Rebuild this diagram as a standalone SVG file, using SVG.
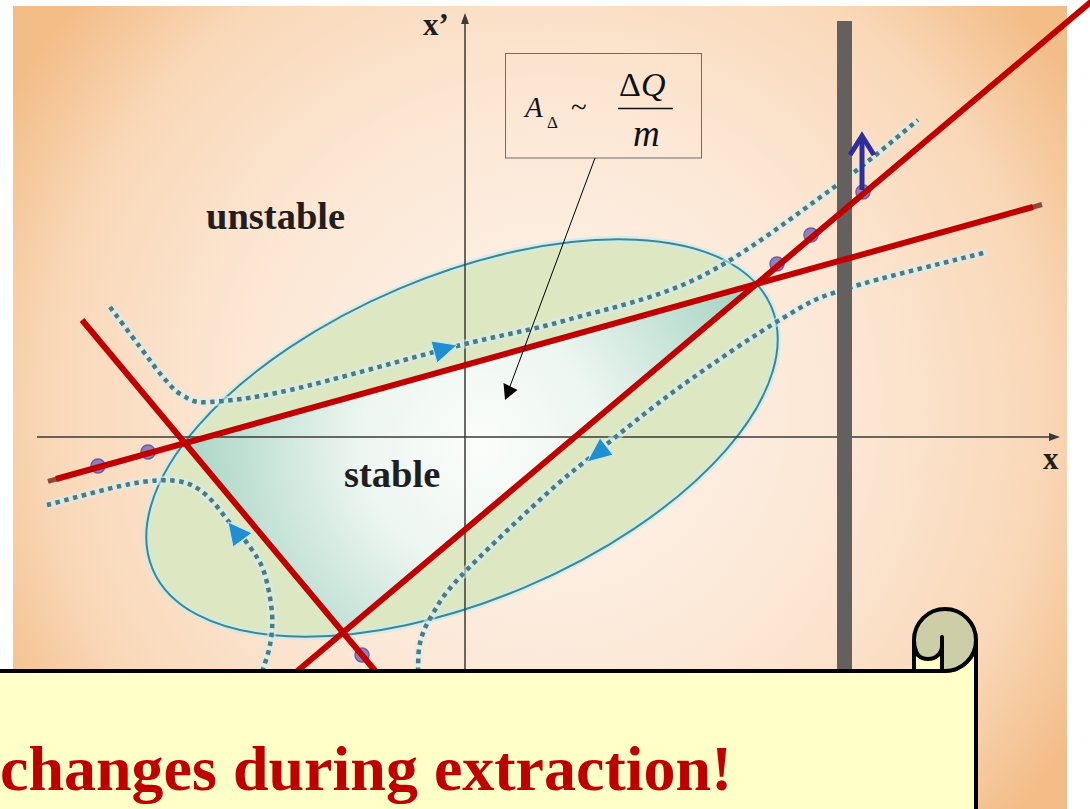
<svg xmlns="http://www.w3.org/2000/svg" width="1090" height="809" viewBox="0 0 1090 809">
<defs>
  <radialGradient id="bg" gradientUnits="userSpaceOnUse" cx="545" cy="410" r="620">
    <stop offset="0" stop-color="#fdf5ee"/>
    <stop offset="0.5" stop-color="#fce7d4"/>
    <stop offset="0.8" stop-color="#f9d8b8"/>
    <stop offset="1" stop-color="#f3bd88"/>
  </radialGradient>
  <radialGradient id="tri" gradientUnits="userSpaceOnUse" cx="480" cy="445" r="300">
    <stop offset="0" stop-color="#fbfdfb"/>
    <stop offset="0.4" stop-color="#edf6f1"/>
    <stop offset="1" stop-color="#a8d4c4"/>
  </radialGradient>
  <clipPath id="ellClip">
    <ellipse cx="462" cy="438" rx="336" ry="162" transform="rotate(-23 462 438)"/>
  </clipPath>
  <style>
    .lbl { font-family: "Liberation Serif", "Times New Roman", serif; font-weight: bold; fill: #221e1f; }
    .math { font-family: "Liberation Serif", "Times New Roman", serif; fill: #111; }
    .it { font-style: italic; }
    .axis { stroke: #3a3a3a; stroke-width: 1.5; fill: none; }
    .axhead { fill: #3a3a3a; }
    .glow { fill: none; stroke: #d4eff1; stroke-width: 9; opacity: 0.55; }
    .traj { fill: none; stroke: #4a7a84; stroke-width: 4.5; stroke-dasharray: 4.5 4.5; }
    .tarrow { fill: #1f8fd1; stroke: #c4eaf5; stroke-width: 1; }
    .sep { stroke: #c00000; stroke-width: 6; fill: none; }
    .tip { stroke: #8b4a3a; stroke-width: 5; }
    .dot { fill: #8378bb; stroke: #5b4f9c; stroke-width: 1.5; opacity: 0.9; }
    .scroll { stroke: #000; stroke-width: 4; stroke-linejoin: round; }
  </style>
</defs>

<rect x="0" y="0" width="1090" height="809" fill="#ffffff"/>
<rect id="background" x="13" y="6" width="1054" height="803" fill="url(#bg)"/>

<g id="ellipse-region">
  <ellipse cx="462" cy="438" rx="336" ry="162" transform="rotate(-23 462 438)" fill="#dde7c2" stroke="#c8ecee" stroke-width="7" stroke-opacity="0.7"/>
  <polygon points="185,443 343,632 757,283" fill="url(#tri)" clip-path="url(#ellClip)"/>
  <ellipse cx="462" cy="438" rx="336" ry="162" transform="rotate(-23 462 438)" fill="none" stroke="#3d8794" stroke-width="2"/>
</g>

<g id="axes">
  <line class="axis" x1="37" y1="437" x2="1050" y2="437"/>
  <polygon class="axhead" points="1060,437 1049,433 1049,441"/>
  <line class="axis" x1="465" y1="672" x2="465" y2="22"/>
  <polygon class="axhead" points="465,13 461,24 469,24"/>
  <text class="lbl" x="1043" y="469" font-size="31">x</text>
  <text class="lbl" x="423" y="35" font-size="31">x’</text>
</g>

<g id="labels">
  <text class="lbl" x="206" y="229" font-size="38.5">unstable</text>
  <text class="lbl" x="344" y="487" font-size="38.5">stable</text>
</g>

<g id="trajectories">
  <path class="glow" d="M110,307 C115,313.7 131.2,335.3 140,347 C148.8,358.7 156,369 163,377 C170,385 174.2,390.8 182,395 C189.8,399.2 192,403.2 210,402 C228,400.8 248.8,399.3 290,390 C331.2,380.7 410.8,357.7 457,346 C503.2,334.3 526.5,331.5 567,320 C607.5,308.5 655.7,299 700,277 C744.3,255 796.7,214.2 833,188 C869.3,161.8 903.8,131.3 918,120"/>
  <path class="traj" d="M110,307 C115,313.7 131.2,335.3 140,347 C148.8,358.7 156,369 163,377 C170,385 174.2,390.8 182,395 C189.8,399.2 192,403.2 210,402 C228,400.8 248.8,399.3 290,390 C331.2,380.7 410.8,357.7 457,346 C503.2,334.3 526.5,331.5 567,320 C607.5,308.5 655.7,299 700,277 C744.3,255 796.7,214.2 833,188 C869.3,161.8 903.8,131.3 918,120"/>
  <path class="glow" d="M47,505 C60.8,501.5 108.3,488 130,484 C151.7,480 164.5,479.3 177,481 C189.5,482.7 196.2,487 205,494 C213.8,501 222.5,514.2 230,523 C237.5,531.8 244.3,538.8 250,547 C255.7,555.2 260.3,561 264,572 C267.7,583 271,600.8 272,613 C273,625.2 271.7,635.2 270,645 C268.3,654.8 263.3,667.5 262,672"/>
  <path class="traj" d="M47,505 C60.8,501.5 108.3,488 130,484 C151.7,480 164.5,479.3 177,481 C189.5,482.7 196.2,487 205,494 C213.8,501 222.5,514.2 230,523 C237.5,531.8 244.3,538.8 250,547 C255.7,555.2 260.3,561 264,572 C267.7,583 271,600.8 272,613 C273,625.2 271.7,635.2 270,645 C268.3,654.8 263.3,667.5 262,672"/>
  <path class="glow" d="M418,672 C418.3,667.2 417.7,652.5 420,643 C422.3,633.5 425.3,626 432,615 C438.7,604 441.5,596.7 460,577 C478.5,557.3 520.2,517.8 543,497 C565.8,476.2 574.2,470.3 597,452 C619.8,433.7 649,409.3 680,387 C711,364.7 755.5,334.3 783,318 C810.5,301.7 811,300 845,289 C879,278 963.3,258.2 987,252"/>
  <path class="traj" d="M418,672 C418.3,667.2 417.7,652.5 420,643 C422.3,633.5 425.3,626 432,615 C438.7,604 441.5,596.7 460,577 C478.5,557.3 520.2,517.8 543,497 C565.8,476.2 574.2,470.3 597,452 C619.8,433.7 649,409.3 680,387 C711,364.7 755.5,334.3 783,318 C810.5,301.7 811,300 845,289 C879,278 963.3,258.2 987,252"/>
  <polygon class="tarrow" points="457,345 431,341 437,363"/>
  <polygon class="tarrow" points="587,462 600,438 613,455"/>
  <polygon class="tarrow" points="228,522 233,547 252,533"/>
</g>

<g id="septum">
  <rect x="837" y="21" width="15" height="651" fill="#646060"/>
</g>

<g id="particles">
  <circle class="dot" cx="98" cy="466" r="7"/>
  <circle class="dot" cx="148" cy="452" r="7"/>
  <circle class="dot" cx="777" cy="264" r="7"/>
  <circle class="dot" cx="811" cy="235" r="7"/>
  <circle class="dot" cx="863" cy="192" r="7"/>
  <circle class="dot" cx="362" cy="655" r="7"/>
</g>

<g id="separatrices">
  <line class="tip" x1="48" y1="481.3" x2="57" y2="478.8"/>
  <line class="tip" x1="1032" y1="207.3" x2="1042" y2="204.5"/>
  <line class="sep" x1="56" y1="479" x2="1033" y2="207"/>
  <line class="sep" x1="295" y1="673" x2="1092" y2="1"/>
  <line class="sep" x1="82" y1="320" x2="377" y2="673"/>
</g>

<g id="kick-arrow">
  <line x1="862" y1="190" x2="862" y2="138" stroke="#2d2d9b" stroke-width="5"/>
  <polyline points="850,155 862,136 874,155" fill="none" stroke="#2d2d9b" stroke-width="5"/>
</g>

<g id="formula-box">
  <rect x="505.5" y="53.5" width="196" height="104.5" fill="none" stroke="#6d6d6d" stroke-width="1"/>
  <text class="math it" x="525" y="117" font-size="29">A</text>
  <text class="math" x="547" y="128" font-size="17">Δ</text>
  <text class="math" x="571" y="117" font-size="29">~</text>
  <text class="math" x="619" y="96" font-size="34">Δ<tspan class="it">Q</tspan></text>
  <line x1="618" y1="108.5" x2="673" y2="108.5" stroke="#111" stroke-width="1.5"/>
  <text class="math it" x="633" y="146" font-size="37">m</text>
</g>

<g id="connectors">
  <line x1="595" y1="158" x2="509" y2="389" stroke="#000" stroke-width="1"/>
  <polygon points="505,400 503.5,383 517.5,390" fill="#000"/>
</g>

<g id="scroll">
  <path class="scroll" d="M-5,671 H945 A31,31 0 0 0 976,640 V815 H-5 Z" fill="#ffffc8"/>
  <circle class="scroll" cx="945" cy="640" r="31" fill="#cdcda7"/>
  <path class="scroll" d="M914,640 V646 A14,13 0 0 0 942,646 V671 H914 Z" fill="#ffffc8"/>
  <line x1="942" y1="637" x2="942" y2="660" stroke="#000" stroke-width="4" stroke-linecap="round"/>
  <text x="0" y="790" font-family="'Liberation Serif', 'Times New Roman', serif" font-weight="bold" font-size="64" fill="#c00000">changes during extraction!</text>
</g>
</svg>
